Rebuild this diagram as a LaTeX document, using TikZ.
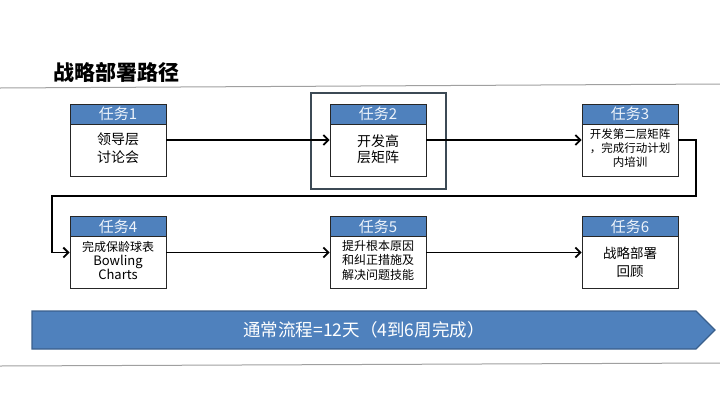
\documentclass[tikz,border=0pt]{standalone}
\usepackage{fontspec}
\setmainfont{Noto Sans CJK SC}
\usetikzlibrary{arrows.meta}
\definecolor{hdrblue}{HTML}{4F81BD}
\definecolor{bardark}{HTML}{3A5F8C}
\definecolor{framegray}{HTML}{3C4A55}
\definecolor{rulegray}{HTML}{A0A0A0}
\definecolor{hdrtext}{HTML}{EEF4FB}
\begin{document}
\begin{tikzpicture}[x=1pt,y=-1pt,
  taskbox/.style={draw=black!85, line width=0.9pt, fill=white, minimum width=96pt, minimum height=72pt, inner sep=0pt},
  hdr/.style={draw=black!85, line width=0.9pt, fill=hdrblue, text=hdrtext, minimum width=96pt, minimum height=20pt, inner sep=0pt, anchor=north, font=\fontsize{15}{16}\selectfont},
  bodytxt/.style={align=center, inner sep=0pt, text=black},
  arr/.style={draw=black, line width=1.8pt, -{Straight Barb[length=5pt,width=10pt]}},
  rulel/.style={draw=rulegray, line width=1pt}
]
\useasboundingbox (0,0) rectangle (720,405);
% rules
\draw[rulel] (0,88) -- (720,84);
\draw[rulel] (0,366) -- (720,363);
% title
\node[font=\fontsize{21}{24}\selectfont\bfseries, inner sep=0pt] (title) at (116,72) {战略部署路径};
% frame around task 2
\node[draw=framegray, line width=1.6pt, minimum width=135pt, minimum height=96pt, inner sep=0pt] (f2) at (378.5,141) {};
% task boxes
\node[taskbox] (t1) at (118,140) {};
\node[taskbox] (t2) at (378,140) {};
\node[taskbox] (t3) at (630,140) {};
\node[taskbox] (t4) at (118,252.5) {};
\node[taskbox] (t5) at (378,252.5) {};
\node[taskbox] (t6) at (630,252.5) {};
% headers
\node[hdr] (h1) at (t1.north) {任务1};
\node[hdr] (h2) at (t2.north) {任务2};
\node[hdr] (h3) at (t3.north) {任务3};
\node[hdr] (h4) at (t4.north) {任务4};
\node[hdr] (h5) at (t5.north) {任务5};
\node[hdr] (h6) at (t6.north) {任务6};
% bodies
\node[bodytxt, font=\fontsize{14}{18}\selectfont] (b1) at (118,148) {领导层\\讨论会};
\node[bodytxt, font=\fontsize{14}{16}\selectfont] (b2) at (378,149.5) {开发高\\层矩阵};
\node[bodytxt, font=\fontsize{11.5}{14}\selectfont] (b3) at (630,148) {开发第二层矩阵\\，完成行动计划\\内培训};
\node[bodytxt, font=\fontsize{12}{14}\selectfont] (b4) at (118,260) {完成保龄球表\\{\fontsize{13}{14}\selectfont Bowling}\\{\fontsize{13}{14}\selectfont Charts}};
\node[bodytxt, font=\fontsize{12}{14.5}\selectfont] (b5) at (378,260) {提升根本原因\\和纠正措施及\\解决问题技能};
\node[bodytxt, font=\fontsize{13.5}{18}\selectfont] (b6) at (630,262) {战略部署\\回顾};
% connectors
\coordinate (r1) at (696,196);
\coordinate (l1) at (52,196);
\draw[arr] (t1.east) -- (t2.west);
\draw[arr] (t2.east) -- (t3.west);
\draw[arr] (t3.east) -| (r1) -- (l1) |- (t4.west);
\draw[arr] (t4.east) -- (t5.west);
\draw[arr] (t5.east) -- (t6.west);
% bottom bar
\draw[fill=hdrblue, draw=bardark, line width=1.3pt] (32,311) -- (696,311) -- (715,330) -- (696,349) -- (32,349) -- cycle;
\node[text=white, inner sep=0pt, font=\fontsize{17.5}{20}\selectfont] (bar) at (364,330) {通常流程=12天（4到6周完成）};
\end{tikzpicture}
\end{document}
